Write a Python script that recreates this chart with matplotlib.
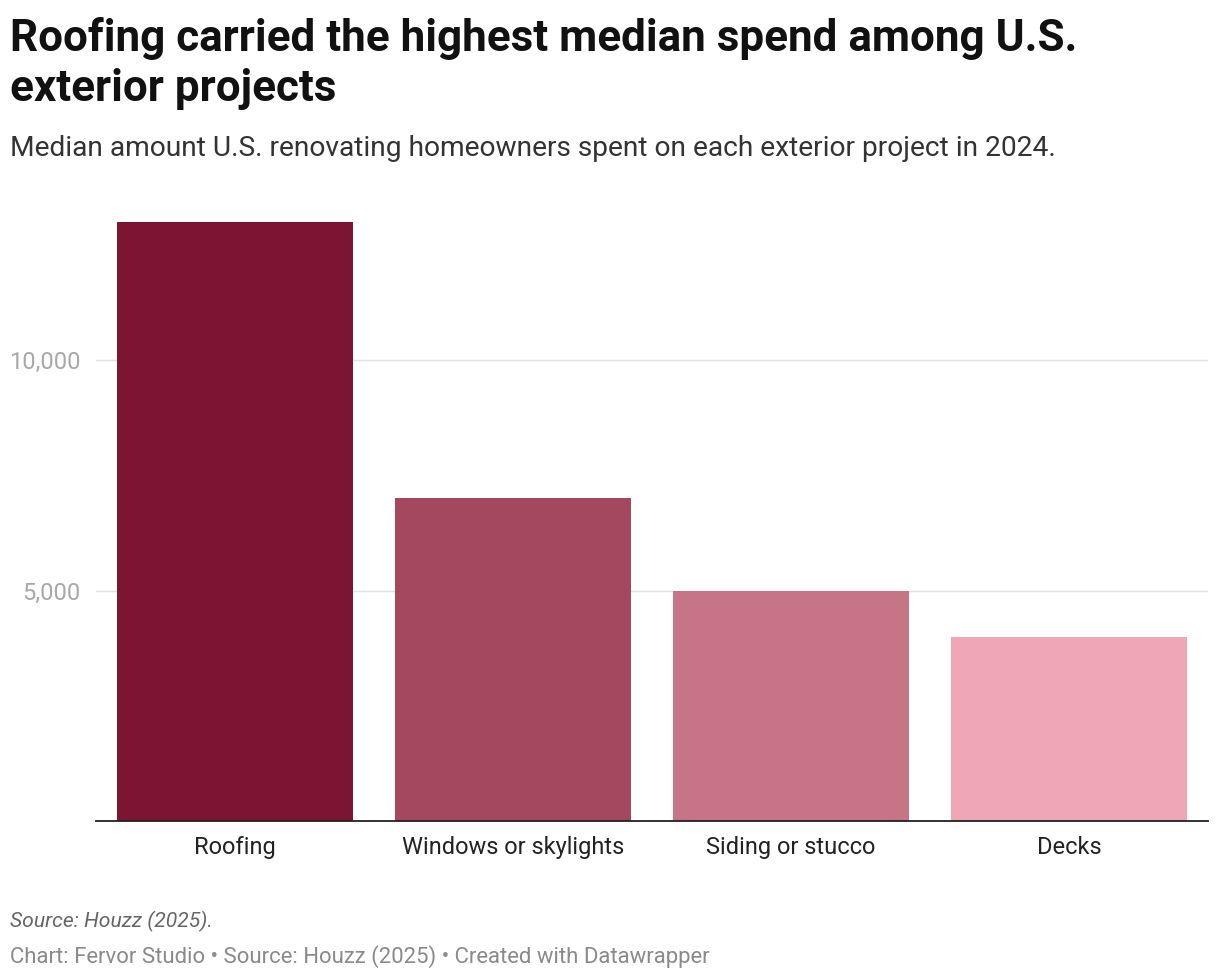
import matplotlib.pyplot as plt
from matplotlib.ticker import FuncFormatter

plt.rcParams['font.family'] = ['Roboto', 'DejaVu Sans']

projects = ['Roofing', 'Windows or skylights', 'Siding or stucco', 'Decks']
median_spend = [13000, 7000, 5000, 4000]
bar_colors = ['#7b1533', '#a3485f', '#c87487', '#efa7b6']
y_ticks = [5000, 10000]

fig = plt.figure(figsize=(12.2, 9.8), dpi=100)
ax = fig.add_axes([96 / 1220, 159 / 980, 1112 / 1220, 599 / 980])

ax.bar(range(len(projects)), median_spend, width=0.85, color=bar_colors, zorder=2)
ax.set_xlim(-0.5, len(projects) - 0.5)
ax.set_ylim(0, 13000)

ax.set_yticks(y_ticks)
ax.yaxis.set_major_formatter(FuncFormatter(lambda v, p: f'{int(v):,}'))
ax.grid(axis='y', color='#e0e0e0', linewidth=1, zorder=0)
ax.tick_params(axis='y', length=0, pad=11, labelsize=17, labelcolor='#a8a8a8')
ax.set_xticks(range(len(projects)))
ax.set_xticklabels(projects)
ax.tick_params(axis='x', length=0, pad=10.5, labelsize=17, labelcolor='#222222')

for side in ['top', 'right', 'left']:
    ax.spines[side].set_visible(False)
ax.spines['bottom'].set_color('#222222')
ax.spines['bottom'].set_linewidth(1.3)
ax.spines['bottom'].set_zorder(3)

def put(y_px, s, **kw):
    fig.text(10 / 1220, 1 - y_px / 980, s, va='baseline', ha='left', **kw)

put(51, 'Roofing carried the highest median spend among U.S.', fontsize=31.7, fontweight='bold', color='#111111')
put(101, 'exterior projects', fontsize=31.7, fontweight='bold', color='#111111')
put(156, 'Median amount U.S. renovating homeowners spent on each exterior project in 2024.',
    fontsize=20.25, color='#333333')
put(927, 'Source: Houzz (2025).', fontsize=15.2, style='italic', color='#666666')
put(963, 'Chart: Fervor Studio • Source: Houzz (2025) • Created with Datawrapper',
    fontsize=15.9, color='#8a8a8a')

fig.savefig('out.png', dpi=100, facecolor='white')
